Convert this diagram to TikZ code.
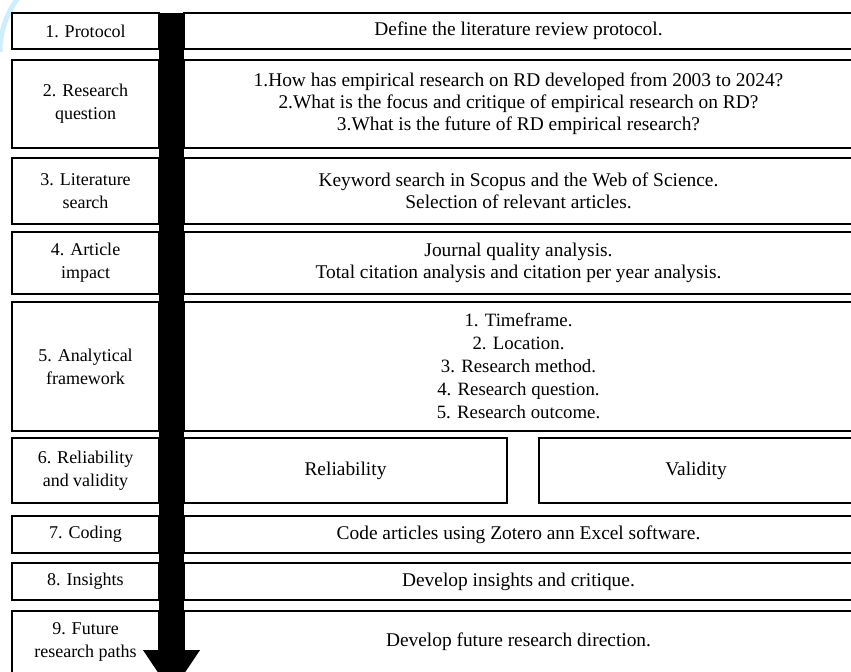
\documentclass[tikz,border=0pt]{standalone}
\usepackage{fontspec}
\setmainfont{Liberation Serif}
\usetikzlibrary{arrows.meta}
\definecolor{markcyan}{RGB}{205, 238, 252}

\begin{document}
\begin{tikzpicture}[x=0.5pt, y=-0.5pt,
    stepname/.style={draw=black, line width=1pt, inner sep=0pt,
      minimum width=73.5pt, align=center,
      font=\fontsize{9}{11.5}\selectfont},
    stepinfo/.style={draw=black, line width=1pt, inner sep=0pt,
      minimum width=334.5pt, align=center,
      font=\fontsize{9.7}{10.9}\selectfont}]
  \useasboundingbox (0,0) rectangle (851,671);
  \draw[markcyan, line width=2.5pt] (0,52) arc[start angle=180, end angle=90, radius=45pt];

  % stage names on the left
  \node[stepname, minimum height=18pt]   (n1) at (85.5,31)    {1. Protocol};
  \node[stepname, minimum height=44pt]   (n2) at (85.5,104)   {2. Research\\question};
  \node[stepname, minimum height=33pt]   (n3) at (85.5,191)   {3. Literature\\search};
  \node[stepname, minimum height=31pt]   (n4) at (85.5,263)   {4. Article\\impact};
  \node[stepname, minimum height=64.5pt] (n5) at (85.5,366.5) {5. Analytical\\framework};
  \node[stepname, minimum height=32.5pt] (n6) at (85.5,470.5) {6. Reliability\\and validity};
  \node[stepname, minimum height=18.5pt] (n7) at (85.5,534.5) {7. Coding};
  \node[stepname, minimum height=18.5pt] (n8) at (85.5,581.5) {8. Insights};
  \node[stepname, minimum height=31pt]   (n9) at (85.5,642)   {9. Future\\research paths};

  % what happens in each stage
  \node[stepinfo, minimum height=18pt] (d1) at (518.5,31) {Define the literature review protocol.};
  \node[stepinfo, minimum height=44pt] (d2) at (518.5,104) {%
    1.How has empirical research on RD developed from 2003 to 2024?\\
    2.What is the focus and critique of empirical research on RD?\\
    3.What is the future of RD empirical research?};
  \node[stepinfo, minimum height=33pt] (d3) at (518.5,191) {%
    Keyword search in Scopus and the Web of Science.\\
    Selection of relevant articles.};
  \node[stepinfo, minimum height=31pt] (d4) at (518.5,263) {%
    Journal quality analysis.\\
    Total citation analysis and citation per year analysis.};
  \node[stepinfo, minimum height=64.5pt,
        font=\fontsize{9.4}{11.5}\selectfont] (d5) at (518.5,366.5) {%
    1. Timeframe.\\2. Location.\\3. Research method.\\
    4. Research question.\\5. Research outcome.};
  \node[stepinfo, minimum width=161.5pt, minimum height=32.5pt] (d6a) at (345.5,470.5) {Reliability};
  \node[stepinfo, minimum width=157pt, minimum height=32.5pt]   (d6b) at (696,470.5)   {Validity};
  \node[stepinfo, minimum height=18.5pt] (d7) at (518.5,534.5) {Code articles using Zotero ann Excel software.};
  \node[stepinfo, minimum height=18.5pt] (d8) at (518.5,581.5) {Develop insights and critique.};
  \node[stepinfo, minimum height=31pt]   (d9) at (518.5,642)   {Develop future research direction.};

  % the flow through all stages
  \coordinate (flowtop) at (171.5,13);
  \coordinate (flowtip) at (171.5,693);
  \draw[line width=12.5pt, -{Triangle[width=27pt, length=21.5pt]}] (flowtop) -- (flowtip);
\end{tikzpicture}
\end{document}
